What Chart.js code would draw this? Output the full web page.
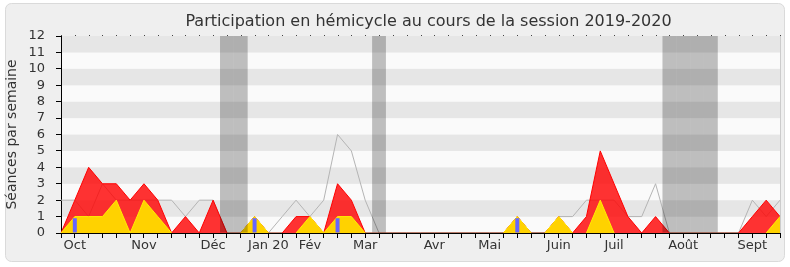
<!DOCTYPE html>
<html><head><meta charset="utf-8">
<script src="https://cdn.jsdelivr.net/npm/chart.js@4/dist/chart.umd.min.js"></script>
<style>html,body{margin:0;padding:0;background:#fff}</style>
</head><body>
<canvas id="c" width="790" height="267"></canvas>
<script>
const chartTitle = 'Participation en hémicycle au cours de la session 2019-2020';
const yTitle = 'Séances par semaine';
const tickLabels = ['', 'Oct', '', '', '', '', 'Nov', '', '', '', '', 'Déc', '', '', '', 'Jan 20', '', '', 'Fév', '', '', '', 'Mar', '', '', '', '', 'Avr', '', '', '', 'Mai', '', '', '', '', 'Juin', '', '', '', 'Juil', '', '', '', '', 'Août', '', '', '', '', 'Sept', '', ''];
const presences = [0,2,4,3,3,2,3,2,0,1, 0,2,0,0,1,0,0,1,1,0, 3,2,0,0,0,0,0,0,0,0, 0,0,0,1,0,0,1,0,1,5, 3,1,0,1,0,0,0,0,0,0, 1,2,1];
const interventions = [0,1,1,1,2,0,2,1,0,0, 0,0,0,0,1,0,0,0,1,0, 1,1,0,0,0,0,0,0,0,0, 0,0,0,1,0,0,1,0,0,2, 0,0,0,0,0,0,0,0,0,0, 0,0,1];
const mediane = [2,2,1,3,2,2,2,2,2,1, 2,2,0,0,1,0,1,2,1,2, 6,5,2,0,0,0,0,0,0,0, 0,0,0,1,0,0,1,1,2,2, 2,1,1,3,0,0,0,0,0,0, 2,1,2];
const questions = [0,0.9,0,0,0,0,0,0,0,0, 0,0,0,0,0.9,0,0,0,0,0, 0.9,0,0,0,0,0,0,0,0,0, 0,0,0,0.9,0,0,0,0,0,0, 0,0,0,0,0,0,0,0,0,0, 0,0,0];
const vacances = [0,0,0,0,0,0,0,0,0,0, 0,0,12,12,0,0,0,0,0,0, 0,0,0,12,0,0,0,0,0,0, 0,0,0,0,0,0,0,0,0,0, 0,0,0,0,12,12,12,12,0,0, 0,0,0];
const yMax = 12;

const FONT = 'DejaVu Sans';

const backdrop = {
  id: 'backdrop',
  beforeDraw(chart) {
    const ctx = chart.ctx, a = chart.chartArea, ys = chart.scales.y;
    ctx.save();
    ctx.fillStyle = '#ffffff';
    ctx.fillRect(0, 0, chart.width, chart.height);
    ctx.beginPath();
    ctx.roundRect(5.5, 3.5, 779, 258, 6);
    ctx.fillStyle = '#efefef';
    ctx.fill();
    ctx.strokeStyle = '#dadada';
    ctx.lineWidth = 1;
    ctx.stroke();
    for (let v = 0; v < yMax; v++) {
      const y0 = ys.getPixelForValue(v), y1 = ys.getPixelForValue(v + 1);
      ctx.fillStyle = (v % 2 === 1) ? '#e6e6e6' : '#fafafa';
      ctx.fillRect(a.left, y1, a.right - a.left, y0 - y1);
    }
    ctx.restore();
  },
  afterDraw(chart) {
    const ctx = chart.ctx, a = chart.chartArea, xs = chart.scales.x;
    ctx.save();
    ctx.fillStyle = '#444';
    for (let i = 0; i < tickLabels.length; i++) {
      const x = Math.round(xs.getPixelForTick(i));
      ctx.fillRect(x, a.top - 1, 1, 1);
    }
    ctx.fillStyle = '#cccccc';
    ctx.fillRect(Math.round(a.right), a.top, 1, a.bottom - a.top);
    ctx.font = '16px "' + FONT + '"';
    ctx.fillStyle = '#333';
    ctx.textAlign = 'center';
    ctx.textBaseline = 'alphabetic';
    ctx.fillText(chartTitle, (a.left + a.right) / 2 + 8, 26);
    ctx.restore();
  }
};

const zeroSeg = (zeroColor, color) => (c) => (c.p0.parsed.y === 0 && c.p1.parsed.y === 0) ? zeroColor : color;

new Chart(document.getElementById('c'), {
  type: 'line',
  data: {
    labels: tickLabels,
    datasets: [
      { type: 'bar', data: vacances, backgroundColor: 'rgba(0,0,0,0.24)', borderWidth: 0,
        barPercentage: 1, categoryPercentage: 1, grouped: false, inflateAmount: 0, order: 0 },
      { type: 'bar', data: questions, backgroundColor: '#6666ff', borderWidth: 0,
        barThickness: 4, grouped: false, inflateAmount: 0, order: 1 },
      { data: interventions, fill: 'origin', backgroundColor: '#ffd200', borderColor: '#ffee00',
        segment: { borderColor: zeroSeg('rgba(0,0,0,0)', '#ffee00') },
        borderWidth: 1, pointRadius: 0, tension: 0, order: 2 },
      { data: presences, fill: 'origin', backgroundColor: 'rgba(255,0,0,0.8)', borderColor: '#ff0000',
        segment: { borderColor: zeroSeg('#992200', '#ff0000') },
        borderWidth: 1, pointRadius: 0, tension: 0, order: 3 },
      { data: mediane, fill: false, borderColor: '#b4b4b4', borderWidth: 1, pointRadius: 0, tension: 0, order: 4 }
    ]
  },
  options: {
    responsive: false,
    devicePixelRatio: 1,
    animation: false,
    layout: { padding: { left: 0, right: 10, top: 36, bottom: 0 } },
    plugins: { legend: { display: false }, tooltip: { enabled: false }, title: { display: false } },
    scales: {
      x: {
        type: 'category', offset: false, z: 1,
        grid: { drawOnChartArea: false, drawTicks: true, tickLength: 5, color: '#000', offset: false },
        border: { display: true, color: '#000', width: 1 },
        ticks: { autoSkip: false, maxRotation: 0, minRotation: 0, padding: 0, color: '#333',
          font: { family: FONT, size: 13 }, callback: (v, i) => tickLabels[i] },
        afterFit: (s) => { s.height = 34; }
      },
      y: {
        min: 0, max: yMax, z: 1,
        grid: { drawOnChartArea: false, drawTicks: true, tickLength: 5, color: '#000' },
        border: { display: true, color: '#000', width: 1 },
        ticks: { stepSize: 1, autoSkip: false, padding: 11, color: '#333', font: { family: FONT, size: 13 } },
        title: { display: true, text: yTitle, color: '#333', font: { family: FONT, size: 14 }, padding: { top: 4, bottom: 0 } },
        afterFit: (s) => { s.width = 61; }
      }
    }
  },
  plugins: [backdrop]
});
</script>
</body></html>
